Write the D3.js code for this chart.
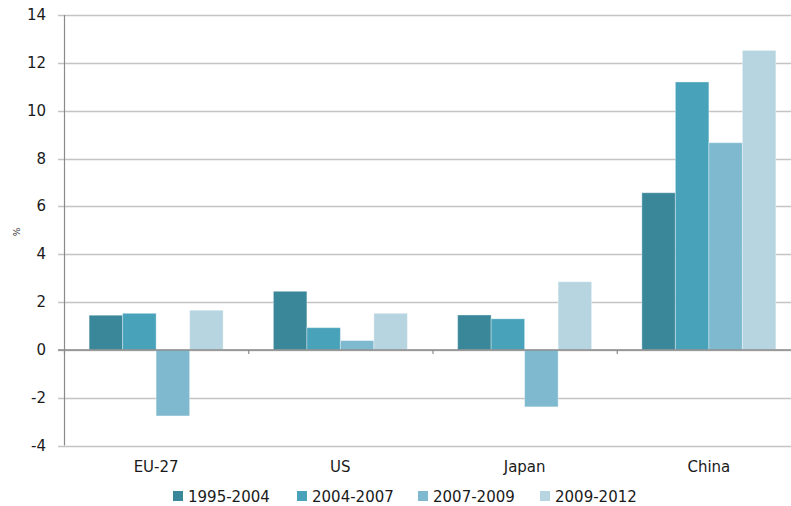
<!DOCTYPE html>
<html><head><meta charset="utf-8">
<script src="https://cdn.jsdelivr.net/npm/d3@7"></script>
<style>body{margin:0;background:#fff}svg{display:block;font-family:"DejaVu Sans",Verdana,sans-serif}</style>
</head><body>
<svg id="c" width="791" height="506"></svg>
<script>
const categories = ["EU-27","US","Japan","China"];
const seriesNames = ["1995-2004","2004-2007","2007-2009","2009-2012"];
const s1995_2004 = [1.45, 2.45, 1.46, 6.57];
const s2004_2007 = [1.53, 0.93, 1.30, 11.2];
const s2007_2009 = [-2.76, 0.39, -2.38, 8.66];
const s2009_2012 = [1.66, 1.53, 2.85, 12.52];
const yTicks = [-4,-2,0,2,4,6,8,10,12,14];
const colors = ["#3a8799","#48a2b9","#7eb9cf","#b7d5e0"];

const series = [s1995_2004, s2004_2007, s2007_2009, s2009_2012];
const svg = d3.select("#c");
const mLeft = 64, mRight = 801, mTop = 15, mBottom = 445.6;
const y = d3.scaleLinear().domain([-4,14]).range([mBottom, mTop]);
const x0 = d3.scaleBand().domain(categories).range([mLeft, mRight]).paddingInner(0).paddingOuter(0);
const x1 = d3.scaleBand().domain(seriesNames).range([0, x0.bandwidth()]).paddingOuter(0.75).paddingInner(0);

// gridlines
svg.append("g").selectAll("line").data(yTicks).join("line")
  .attr("x1", mLeft - 6).attr("x2", 791)
  .attr("y1", d => Math.round(y(d)) + 0.5).attr("y2", d => Math.round(y(d)) + 0.5)
  .attr("stroke", "#c4c4c4").attr("stroke-width", 1.5);

// y tick labels
svg.append("g").selectAll("text").data(yTicks).join("text")
  .attr("x", 46).attr("y", d => y(d) + 5)
  .attr("text-anchor", "end").attr("font-size", 15).attr("fill", "#1a1a1a")
  .text(d => d);

// % label
svg.append("text").attr("transform", "translate(20,232) rotate(-90)")
  .attr("text-anchor", "middle").attr("font-size", 9).attr("fill", "#333").text("%");

// bars
const g = svg.append("g");
categories.forEach((c, i) => {
  series.forEach((s, j) => {
    const v = s[i];
    g.append("rect")
      .attr("x", x0(c) + x1(seriesNames[j]))
      .attr("width", x1.bandwidth())
      .attr("y", y(Math.max(0, v)))
      .attr("height", Math.abs(y(v) - y(0)))
      .attr("fill", colors[j])
      .attr("stroke", "#ffffff").attr("stroke-opacity", 0.35).attr("stroke-width", 1);
  });
});

// y axis line
svg.append("line").attr("x1", mLeft + 0.5).attr("x2", mLeft + 0.5).attr("y1", mTop).attr("y2", mBottom)
  .attr("stroke", "#8a8a8a").attr("stroke-width", 1.2);
// x axis line
svg.append("line").attr("x1", mLeft - 6).attr("x2", 791).attr("y1", y(0)).attr("y2", y(0))
  .attr("stroke", "#8a8a8a").attr("stroke-width", 1.5);
// x ticks
svg.append("g").selectAll("line").data(categories.map(c => x0(c)).concat([mRight])).join("line")
  .attr("x1", d => d + 0.5).attr("x2", d => d + 0.5).attr("y1", y(0)).attr("y2", y(0) + 4)
  .attr("stroke", "#8a8a8a").attr("stroke-width", 1.2);

// category labels
svg.append("g").selectAll("text").data(categories).join("text")
  .attr("x", d => x0(d) + x0.bandwidth() / 2).attr("y", 472)
  .attr("text-anchor", "middle").attr("font-size", 15).attr("fill", "#1a1a1a")
  .text(d => d);

// legend
const legX = [173, 297, 418, 540];
const leg = svg.append("g");
seriesNames.forEach((n, j) => {
  leg.append("rect").attr("x", legX[j]).attr("y", 491).attr("width", 10).attr("height", 10).attr("fill", colors[j]);
  leg.append("text").attr("x", legX[j] + 15).attr("y", 501.5).attr("font-size", 15).attr("fill", "#1a1a1a").text(n);
});
</script>
</body></html>
